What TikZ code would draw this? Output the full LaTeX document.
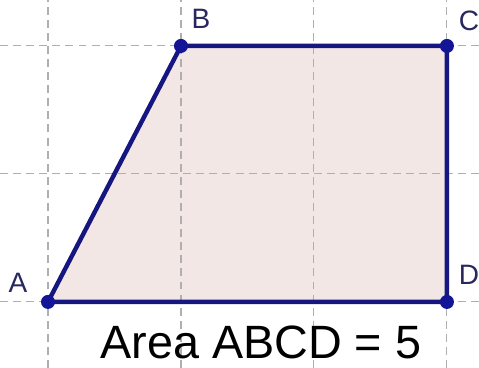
\documentclass[tikz,border=0pt]{standalone}
\usepackage{fontspec}
\setmainfont{Liberation Sans}
\definecolor{edgeblue}{RGB}{22,22,128}
\definecolor{ptblue}{RGB}{20,20,150}
\definecolor{areafill}{RGB}{243,231,229}
\definecolor{lblcol}{RGB}{40,40,95}
\tikzset{every picture/.style={line width=0.75pt}}
\tikzset{
  gridline/.style={color={rgb,255:red,175;green,175;blue,175}, line width=0.45pt, dash pattern={on 3.4pt off 2.2pt}},
  side/.style={color=edgeblue, line width=1.9pt},
  pt/.style={circle, fill=ptblue, inner sep=0pt, minimum size=6pt},
  lbl/.style={color=lblcol, font=\fontsize{12}{14}\selectfont}
}

\begin{document}
\begin{tikzpicture}[x=2cm, y=1.925cm]
        \useasboundingbox (-0.361,-0.516) rectangle (3.241,2.359);
        % vertices
        \coordinate (A) at (0,0);
        \coordinate (B) at (1,2);
        \coordinate (C) at (3,2);
        \coordinate (D) at (3,0);
        \fill[areafill] (A) -- (B) -- (C) -- (D) -- cycle;
        % grid
        \foreach \i in {0,1,2,3} \draw[gridline] (\i,-0.516) -- (\i,2.359);
        \foreach \j in {0,1,2} \draw[gridline] (-0.361,\j) -- (3.241,\j);
        \draw[side] (A) -- (B) -- (C) -- (D) -- cycle;
        \node[pt] (pA) at (A) {};
        \node[pt] (pB) at (B) {};
        \node[pt] (pC) at (C) {};
        \node[pt] (pD) at (D) {};
        \node[lbl] (lA) at (-0.226,0.148) {A};
        \node[lbl] (lB) at (1.150,2.211) {B};
        \node[lbl] (lC) at (3.165,2.195) {C};
        \node[lbl] (lD) at (3.165,0.211) {D};
        \node[font=\fontsize{20}{24}\selectfont] (area) at (1.60,-0.32) {Area ABCD = 5};
    \end{tikzpicture}
\end{document}
